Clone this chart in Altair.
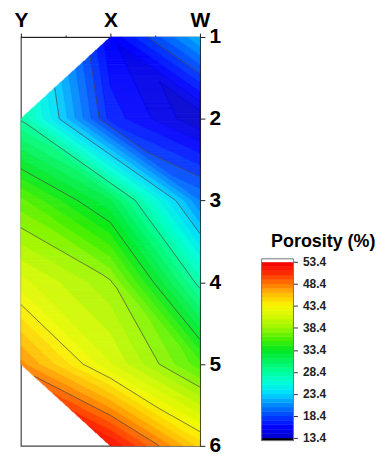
import numpy as np
import pandas as pd
import altair as alt

# Wells across the section (left to right) and sample depths
wells = ["Y", "X", "W"]
depths = [1, 2, 3, 4, 5, 6]

# Porosity (%) at each well and depth; None where the well has no sample
porosity_Y = [None, 28.2, 36.7, 41.8, 47.7, None]
porosity_X = [15.5, 17.0, 31.5, 38.6, 41.5, 52.5]
porosity_W = [22.4, 13.5, 20.4, 27.8, 35.8, 45.0]

# Colour bar range, its tick labels and the contour levels
por_min, por_max = 13.4, 53.4
colorbar_ticks = [13.4, 18.4, 23.4, 28.4, 33.4, 38.4, 43.4, 48.4, 53.4]
contour_levels = [18.4, 23.4, 28.4, 33.4, 38.4, 43.4, 48.4]
band_width = 1.0

# Rainbow colour map (black below the range, white above it)
cmap_values = [12.7, 13.39, 13.4, 16.0, 18.4, 21.0, 23.4, 26.0, 28.4, 31.0,
               33.4, 36.0, 38.4, 41.0, 43.4, 46.0, 48.4, 51.0, 53.4, 53.41, 54.2]
cmap_colors = ["#000000", "#000000", "#0000c8", "#0004ff", "#0040ff", "#008cff",
               "#00d8ff", "#00ffd8", "#00ff9c", "#00f25a", "#00e81e", "#4cf000",
               "#98f500", "#d2f800", "#f8f800", "#ffc000", "#ff7800", "#ff2800",
               "#f00000", "#ffffff", "#ffffff"]

grid = np.array([porosity_Y, porosity_X, porosity_W], dtype=float)  # [well, depth]
n_wells, n_depths = grid.shape
n_bands = int(round((por_max - por_min) / band_width))


def cell_triangles(c, r):
    """Triangles (node index lists) of the mesh cell between wells c, c+1 and depths r, r+1."""
    tl, tr, bl, br = (c, r), (c + 1, r), (c, r + 1), (c + 1, r + 1)
    if np.isnan(grid[tl]):
        return [(tr, bl, br)]
    if np.isnan(grid[bl]):
        return [(tl, tr, br)]
    return [(tl, tr, br), (tl, bl, br)]


def interp(x, d):
    """Linear interpolation of porosity on the triangulated well/depth mesh."""
    c = min(int(x), n_wells - 2)
    r = min(int(d - depths[0]), n_depths - 2)
    u, v = x - c, d - depths[0] - r
    tl, tr = grid[c, r], grid[c + 1, r]
    bl, br = grid[c, r + 1], grid[c + 1, r + 1]
    if np.isnan(tl):
        if u + v < 1:
            return np.nan
        return br + (1 - u) * (bl - br) + (1 - v) * (tr - br)
    if np.isnan(bl):
        if v > u:
            return np.nan
        return tl + u * (tr - tl) + v * (br - tr)
    if u >= v:
        return tl + u * (tr - tl) + v * (br - tr)
    return tl + v * (bl - tl) + u * (br - bl)


# Filled contour bands: sample the field row by row and merge equal-band runs
n_rows, n_samples = 411, 360
x_span = n_wells - 1
d_span = depths[-1] - depths[0]
records = []
for i in range(n_rows):
    d0 = depths[0] + d_span * i / n_rows
    d1 = depths[0] + d_span * (i + 1) / n_rows
    dm = 0.5 * (d0 + d1)
    bands = []
    for j in range(n_samples):
        val = interp(x_span * (j + 0.5) / n_samples, dm)
        if np.isnan(val):
            bands.append(-1)
        else:
            bands.append(int(np.clip(np.floor((val - por_min) / band_width), 0, n_bands - 1)))
    start = 0
    for j in range(1, n_samples + 1):
        if j == n_samples or bands[j] != bands[start]:
            if bands[start] >= 0:
                records.append({
                    "x0": round(x_span * start / n_samples, 5),
                    "x1": round(x_span * j / n_samples, 5),
                    "d0": round(d0, 5),
                    "d1": round(d1, 5),
                    "porosity": round(por_min + (bands[start] + 0.5) * band_width, 2),
                })
            start = j
field_df = pd.DataFrame(records)

# Contour lines: straight segments through each mesh triangle
segments = []
for c in range(n_wells - 1):
    for r in range(n_depths - 1):
        for tri in cell_triangles(c, r):
            pts = [(n[0], depths[n[1]], grid[n]) for n in tri]
            for level in contour_levels:
                cross = []
                for a, b in ((0, 1), (1, 2), (2, 0)):
                    xa, da, va = pts[a]
                    xb, db, vb = pts[b]
                    if (va - level) * (vb - level) < 0:
                        t = (level - va) / (vb - va)
                        cross.append((xa + t * (xb - xa), da + t * (db - da)))
                if len(cross) == 2:
                    segments.append({"x0": cross[0][0], "d0": cross[0][1],
                                     "x1": cross[1][0], "d1": cross[1][1],
                                     "level": level})
contour_df = pd.DataFrame(segments)

# Colour bar bands (with the under/over strips at both ends)
bar_rows = [{"lo": por_min - 0.6, "hi": por_min, "porosity": por_min - 0.3}]
for k in range(n_bands):
    lo = por_min + k * band_width
    bar_rows.append({"lo": lo, "hi": lo + band_width, "porosity": lo + 0.5 * band_width})
bar_rows.append({"lo": por_max, "hi": por_max + 0.7, "porosity": por_max + 0.35})
bar_df = pd.DataFrame(bar_rows)

font = "Liberation Sans"
color_scale = alt.Scale(domain=cmap_values, range=cmap_colors, interpolate="rgb")
x_scale = alt.Scale(domain=[0, x_span], nice=False, zero=False)
y_scale = alt.Scale(domain=[depths[0], depths[-1]], reverse=True, nice=False, zero=False)

well_names = "[" + ",".join("'" + w + "'" for w in wells) + "]"
x_axis = alt.Axis(
    orient="top", values=[0, 0.5, 1, 1.5, 2], title=None, grid=False,
    labelExpr="datum.value % 1 === 0 ? " + well_names + "[datum.value] : ''",
    labelFlush=False, labelAngle=0, labelPadding=3,
    tickSize={"condition": {"test": "datum.value % 1 !== 0", "value": 2}, "value": 4},
    labelFont=font, labelFontSize=21, labelFontWeight="bold", labelColor="black",
    domainColor="#222", tickColor="#222", domainWidth=1.2,
)
y_axis = alt.Axis(
    orient="right", values=depths, format="d", title=None, grid=False,
    tickSize=5, labelPadding=4, labelFont=font, labelFontSize=21,
    labelFontWeight="bold", labelColor="black",
    domainColor="#222", tickColor="#222", domainWidth=1.2,
)

field = alt.Chart(field_df).mark_rect(strokeWidth=0.5).encode(
    x=alt.X("x0:Q", scale=x_scale, axis=x_axis),
    x2="x1:Q",
    y=alt.Y("d0:Q", scale=y_scale, axis=y_axis),
    y2="d1:Q",
    color=alt.Color("porosity:Q", scale=color_scale, legend=None),
    stroke=alt.Stroke("porosity:Q", scale=color_scale, legend=None),
)

contours = alt.Chart(contour_df).mark_rule(color="#4a4a4a", strokeWidth=1, opacity=0.7).encode(
    x=alt.X("x0:Q", scale=x_scale, axis=x_axis),
    x2="x1:Q",
    y=alt.Y("d0:Q", scale=y_scale, axis=y_axis),
    y2="d1:Q",
)

section = alt.layer(field, contours).properties(
    width=180, height=411,
    view=alt.ViewBackground(stroke="#444444", strokeWidth=1.2),
)

# Colour bar panel
bar_scale = alt.Scale(domain=[11.6, 104.5], nice=False, zero=False)
bar_axis = alt.Axis(
    orient="right", values=colorbar_ticks, format=".1f", title=None, grid=False,
    domain=False, tickSize=4, tickColor="#333", labelPadding=5,
    labelFont=font, labelFontSize=12, labelFontWeight="bold", labelColor="#222",
)
bar = alt.Chart(bar_df).mark_rect(strokeWidth=0.5).encode(
    y=alt.Y("lo:Q", scale=bar_scale, axis=bar_axis),
    y2="hi:Q",
    color=alt.Color("porosity:Q", scale=color_scale, legend=None),
    stroke=alt.Stroke("porosity:Q", scale=color_scale, legend=None),
)
bar_outline = alt.Chart(bar_df).mark_rect(fillOpacity=0, stroke="#777777", strokeWidth=1).encode(
    y=alt.Y("min(lo):Q", scale=bar_scale, axis=bar_axis),
    y2="max(hi):Q",
)
colorbar = alt.layer(bar, bar_outline).properties(
    width=32, height=411,
    title=alt.TitleParams(
        "Porosity (%)", anchor="start", dx=10, dy=229, offset=0,
        fontSize=18, fontWeight="bold", font=font, color="black",
        baseline="alphabetic",
    ),
)

chart = alt.hconcat(section, colorbar, spacing=62, bounds="flush").properties(
    padding={"left": 13, "top": 7, "right": 0, "bottom": 0},
).configure_view(stroke="transparent")

chart.save("out.html", embed_options={"renderer": "svg", "actions": False})
